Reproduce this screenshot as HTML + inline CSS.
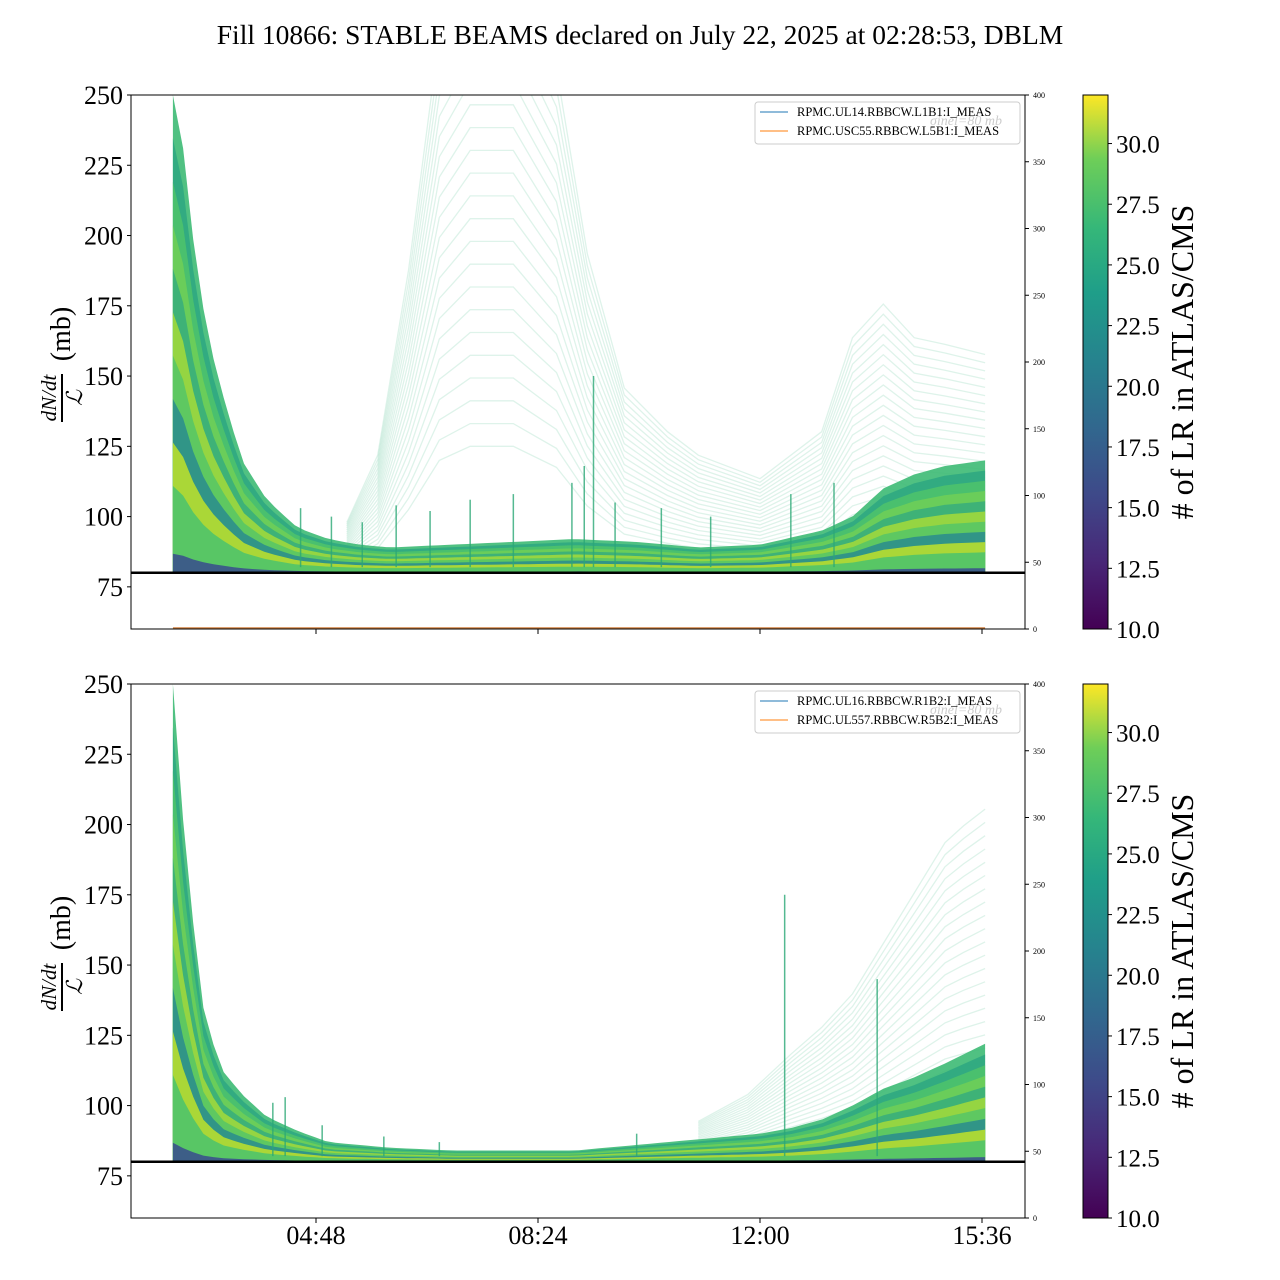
<!DOCTYPE html>
<html><head><meta charset="utf-8"><style>
html,body{margin:0;padding:0;background:#fff;}
svg{display:block;font-family:"Liberation Serif",serif;}
</style></head><body>
<svg id="chart" width="1280" height="1280" viewBox="0 0 1280 1280" xmlns="http://www.w3.org/2000/svg">
<defs>
<linearGradient id="viridis" x1="0" y1="1" x2="0" y2="0">
<stop offset="0" stop-color="#440154"/><stop offset="0.13" stop-color="#482878"/><stop offset="0.25" stop-color="#3e4989"/>
<stop offset="0.38" stop-color="#31688e"/><stop offset="0.5" stop-color="#26828e"/><stop offset="0.63" stop-color="#1f9e89"/>
<stop offset="0.75" stop-color="#35b779"/><stop offset="0.88" stop-color="#6ece58"/><stop offset="1" stop-color="#fde725"/>
</linearGradient>
</defs>
<text x="640" y="44" text-anchor="middle" font-size="27.5">Fill 10866: STABLE BEAMS declared on July 22, 2025 at 02:28:53, DBLM</text>
<g id="root"></g>
</svg>
<script>
// ---- data (hours since midnight) ----
const topTimes   = [2.48,2.6,2.8,3.0,3.2,3.6,4.0,4.5,5.0,5.5,6.0,7.0,8.0,9.0,10.0,11.0,12.0,13.0,13.5,14.0,14.5,15.0,15.65];
const topUpper   = [250,240,200,170,150,120,106,96,92,90,89,90,91,92,91,89,90,95,100,110,115,118,120];
const topHaloT   = [5.3,5.8,6.3,6.8,7.3,8.0,8.7,9.2,9.8,10.5,11.0,12.0,13.0,13.5,14.0,14.5,15.0,15.65];
const topHaloV   = [95,115,170,240,260,260,230,175,135,122,115,108,122,150,160,150,148,145];
const topSpikeT  = [4.55,5.05,5.55,6.1,6.65,7.3,8.0,8.95,9.15,9.3,9.65,10.4,11.2,12.5,13.2];
const topSpikeV  = [103,100,98,104,102,106,108,112,118,150,105,103,100,108,112];
const botTimes   = [2.48,2.55,2.7,3.0,3.3,3.6,4.0,4.5,5.0,6.0,7.0,8.0,9.0,10.0,11.0,12.0,12.5,13.0,13.5,14.0,14.5,15.0,15.65];
const botUpper   = [250,230,185,130,112,104,96,91,87,85,84,84,84,86,88,90,92,95,100,106,110,115,122];
const botHaloT   = [11.0,11.8,12.5,13.0,13.5,14.0,14.5,15.0,15.3,15.65];
const botHaloV   = [92,100,112,120,130,145,160,175,180,185];
const botSpikeT  = [4.1,4.3,4.9,5.9,6.8,10.0,12.4,13.9];
const botSpikeV  = [101,103,93,89,87,90,175,145];
const rightTicks = [0,50,100,150,200,250,300,350,400];
const leftTicks  = [75,100,125,150,175,200,225,250];
const cbTicks    = [10,12.5,15,17.5,20,22.5,25,27.5,30];
const xTickHours = [4.8,8.4,12.0,15.6];
const xTickLabels= ["04:48","08:24","12:00","15:36"];

const NS="http://www.w3.org/2000/svg";
const root=document.getElementById('root');
function mk(tag,attrs,parent){const e=document.createElementNS(NS,tag);for(const k in attrs)e.setAttribute(k,attrs[k]);(parent||root).appendChild(e);return e;}
const X0=131,X1=1025;
function xs(h){return 316+(h-4.8)*(222/3.6);}
function interp(ts,vs,t){if(t<=ts[0])return vs[0];for(let i=1;i<ts.length;i++){if(t<=ts[i]){const f=(t-ts[i-1])/(ts[i]-ts[i-1]);return vs[i-1]+f*(vs[i]-vs[i-1]);}}return vs[vs.length-1];}
const layerColors=["#3dba74","#2fa981","#4cc26c","#6ece58","#3aaf7a","#9fd83c","#58c765","#2c8f8c","#b8de2f","#4fc46a","#3b528b"];

function panel(top,name,times,upper,haloT,haloV,spT,spV,leg1,leg2){
  const Y0=top,Y1=top+534;
  const ys=v=>Y1-(v-60)*(534/190);
  const g=mk('g',{});
  mk('rect',{x:X0,y:Y0,width:X1-X0,height:534,fill:'#fff'},g);
  const clip=mk('clipPath',{id:name+'-clip'},g);mk('rect',{x:X0,y:Y0,width:X1-X0,height:ys(80)-Y0},clip);
  const pg=mk('g',{'clip-path':'url(#'+name+'-clip)'},g);
  for(let k=0;k<22;k++){
    const f=0.25+k*0.045;let d='';
    for(let i=0;i<haloT.length;i++){const v=80+(haloV[i]-80)*f;d+=(i?'L':'M')+xs(haloT[i]).toFixed(1)+','+ys(v).toFixed(1);}
    const p=mk('path',{d:d,fill:'none',stroke:'#2fb27a','stroke-width':1.3,'stroke-opacity':0.16},pg);
    
    
  }
  const N=80;
  for(let L=0;L<layerColors.length;L++){
    const f=L==layerColors.length-1?0.04:1-L/layerColors.length;
    let d='M'+xs(times[0]).toFixed(1)+','+ys(80);
    for(let i=0;i<=N;i++){const t=times[0]+(times[times.length-1]-times[0])*i/N;const v=80+(interp(times,upper,t)-80)*f;d+='L'+xs(t).toFixed(1)+','+ys(v).toFixed(1);}
    d+='L'+xs(times[times.length-1]).toFixed(1)+','+ys(80)+'Z';
    const p=mk('path',{d:d,fill:layerColors[L],'fill-opacity':0.9},pg);
    
    
  }
  for(let i=0;i<spT.length;i++){
    const l=mk('line',{x1:xs(spT[i]),x2:xs(spT[i]),y1:ys(82),y2:ys(spV[i]),stroke:'#2aa876','stroke-width':1.5,'stroke-opacity':0.8},pg);
    
    
  }
  mk('line',{x1:X0,x2:X1,y1:ys(80),y2:ys(80),stroke:'#000','stroke-width':2.5,},g);
  if(top<200) mk('line',{x1:xs(2.48),x2:xs(15.65),y1:Y1-1,y2:Y1-1,stroke:'#d08040','stroke-width':1.5},g);
  mk('rect',{x:X0,y:Y0,width:X1-X0,height:534,fill:'none',stroke:'#000','stroke-width':1,},g);
  leftTicks.forEach(v=>{mk('line',{x1:X0-4,x2:X0,y1:ys(v),y2:ys(v),stroke:'#000'},g);
    const t=mk('text',{x:X0-8,y:ys(v)+9,'text-anchor':'end','font-size':26},g);t.textContent=v;
    });
  rightTicks.forEach(v=>{const y=Y1-v*(534/400);mk('line',{x1:X1,x2:X1+4,y1:y,y2:y,stroke:'#000'},g);
    const t=mk('text',{x:X1+8,y:y+3,'font-size':8},g);t.textContent=v;
    });
  xTickHours.forEach((h,i)=>{mk('line',{x1:xs(h),x2:xs(h),y1:Y1,y2:Y1+5,stroke:'#000'},g);
    if(top>600){const t=mk('text',{x:xs(h),y:Y1+26,'text-anchor':'middle','font-size':26},g);t.textContent=xTickLabels[i];
    }});
  const yl=mk('g',{transform:'translate(62,'+(Y0+267)+') rotate(-90)',},g);
  const a=mk('text',{x:-36,y:-6,'text-anchor':'middle','font-size':21,'font-style':'italic'},yl);a.textContent='dN/dt';
  mk('line',{x1:-60,x2:-12,y1:0,y2:0,stroke:'#000','stroke-width':2},yl);
  const b=mk('text',{x:-36,y:20,'text-anchor':'middle','font-size':22,'font-style':'italic'},yl);b.textContent='ℒ';
  const c=mk('text',{x:28,y:8,'text-anchor':'middle','font-size':28},yl);c.textContent='(mb)';
  const lg=mk('g',{},g);
  mk('rect',{x:755,y:Y0+7,width:265,height:42,rx:3,fill:'#fff','fill-opacity':0.85,stroke:'#ccc'},lg);
  const gt=mk('text',{x:930,y:Y0+30,'font-size':14,fill:'#ccc','font-style':'italic'},lg);gt.textContent='σinel=80 mb';
  mk('line',{x1:760,x2:788,y1:Y0+17,y2:Y0+17,stroke:'#1f77b4','stroke-width':1},lg);
  mk('line',{x1:760,x2:788,y1:Y0+36,y2:Y0+36,stroke:'#ff7f0e','stroke-width':1},lg);
  const t1=mk('text',{x:797,y:Y0+21,'font-size':12.5},lg);t1.textContent=leg1;
  
  const t2=mk('text',{x:797,y:Y0+40,'font-size':12.5},lg);t2.textContent=leg2;
  
  const cb=mk('g',{},g);
  mk('rect',{x:1083,y:Y0,width:25,height:534,fill:'url(#viridis)',stroke:'#000','stroke-width':1},cb);
  cbTicks.forEach(v=>{const y=Y1-(v-10)*(534/22);mk('line',{x1:1108,x2:1112,y1:y,y2:y,stroke:'#000'},cb);
    const t=mk('text',{x:1116,y:y+9,'font-size':25},cb);t.textContent=v.toFixed(1);
    });
  const cl=mk('text',{x:0,y:0,'font-size':32,'text-anchor':'middle',transform:'translate(1193,'+(Y0+267)+') rotate(-90)'},cb);
  cl.textContent='# of LR in ATLAS/CMS';
  
}
panel(95,'top-panel-beam1',topTimes,topUpper,topHaloT,topHaloV,topSpikeT,topSpikeV,'RPMC.UL14.RBBCW.L1B1:I_MEAS','RPMC.USC55.RBBCW.L5B1:I_MEAS');
panel(684,'bottom-panel-beam2',botTimes,botUpper,botHaloT,botHaloV,botSpikeT,botSpikeV,'RPMC.UL16.RBBCW.R1B2:I_MEAS','RPMC.UL557.RBBCW.R5B2:I_MEAS');
</script>
</body></html>
